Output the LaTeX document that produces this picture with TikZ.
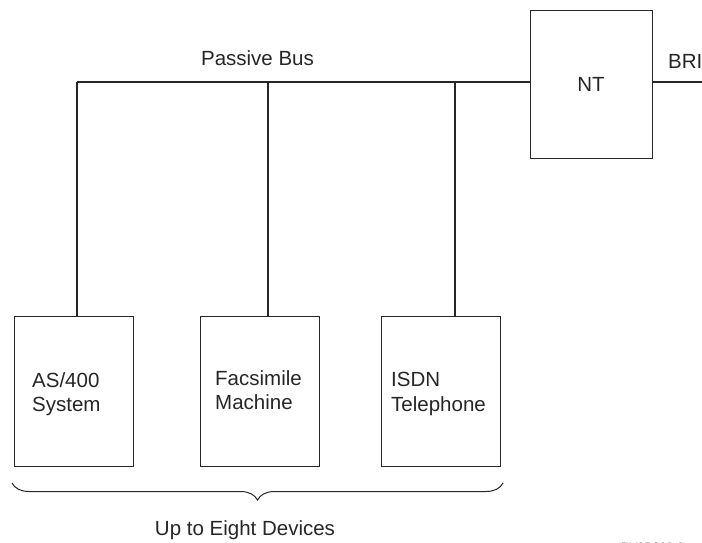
\documentclass[tikz,border=0pt]{standalone}
\usepackage{fontspec}
\setmainfont{Liberation Sans}
\usetikzlibrary{decorations.pathreplacing}
\begin{document}
\begin{tikzpicture}[x=1pt,y=-1pt,
  ln/.style={line width=1.1pt,draw=black!85},
  boxst/.style={ln,draw,inner sep=0pt,anchor=north west},
  lbl/.style={font=\fontsize{20.5}{24.5}\selectfont,text=black!85,inner sep=0pt,align=left},
]
\useasboundingbox (0,0) rectangle (702,543);
% NT box
\node[boxst,minimum width=122pt,minimum height=148pt] (nt) at (530,10) {};
\node[lbl] (ntl) at (591,84) {NT};
% devices
\node[boxst,minimum width=119pt,minimum height=150pt] (d1) at (14,316) {};
\node[boxst,minimum width=119pt,minimum height=150pt] (d2) at (200,316) {};
\node[boxst,minimum width=119pt,minimum height=150pt] (d3) at (381,316) {};
\node[lbl,anchor=north west] (t1) at (32,372) {AS/400\\System};
\node[lbl,anchor=north west] (t2) at (215,370) {Facsimile\\Machine};
\node[lbl,anchor=north west] (t3) at (391,372) {ISDN\\Telephone};
% bus
\coordinate (b1) at (77,82);
\coordinate (b2) at (268,82);
\coordinate (b3) at (455,82);
\coordinate (bri) at (702,82);
\draw[ln] (b1) -- (nt.west |- b1);
\draw[ln] (b1) -- (b1 |- d1.north);
\draw[ln] (b2) -- (b2 |- d2.north);
\draw[ln] (b3) -- (b3 |- d3.north);
\draw[ln] (nt.east |- bri) -- (bri);
\node[lbl,anchor=base] (pb) at (257.5,66) {Passive Bus};
\node[lbl,anchor=base west] (bril) at (668,69) {BRI};
% brace
\coordinate (br1) at (12,483);
\coordinate (br2) at (503,483);
\draw[line width=1pt,draw=black!85,decorate,decoration={brace,mirror,amplitude=17pt}] (br1) -- (br2);
\node[lbl,anchor=base] (up) at (245,543-8) {Up to Eight Devices};
\node[font=\fontsize{12}{14}\selectfont,text=black!85,inner sep=0pt,anchor=base west] (ref) at (621,551) {RV3R000-0};
\end{tikzpicture}
\end{document}
